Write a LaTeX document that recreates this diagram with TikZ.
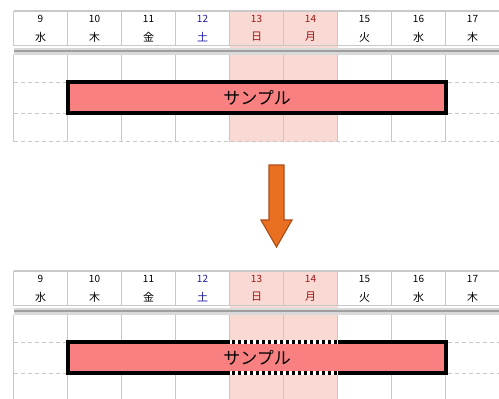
\documentclass[tikz,border=0pt]{standalone}
\usepackage{fontspec}
\setmainfont{Noto Sans CJK JP}
\definecolor{weekend}{RGB}{249,217,211}
\definecolor{gridc}{RGB}{200,200,200}
\definecolor{barfill}{RGB}{248,128,128}
\definecolor{satc}{RGB}{30,30,160}
\definecolor{sunc}{RGB}{160,20,20}
\definecolor{arrowfill}{RGB}{232,112,32}
\definecolor{arrowedge}{RGB}{176,78,26}
\tikzset{
  gridline/.style={draw=gridc, line width=1.2pt},
  rowline/.style={draw=gridc, line width=0.9pt, dash pattern=on 4pt off 3pt},
  daynum/.style={font=\fontsize{10}{10}\selectfont, inner sep=0pt},
  dayname/.style={font=\fontsize{11}{11}\selectfont, inner sep=0pt},
  taskbar/.style={draw=black, fill=barfill, line width=3.5pt, outer sep=0pt,
    minimum width=378pt, minimum height=31pt, inner sep=0pt,
    font=\fontsize{17}{17}\selectfont},
}
\newcommand{\calpanel}[1]{%
  \fill[weekend] (229.5,11) rectangle (337.5,142);
  \draw[gridline] (13.5,11) -- (499.5,11);
  \draw[gridline] (13.5,45.5) -- (499.5,45.5);
  \fill[gray!30] (13.5,47.5) rectangle (499.5,55);
  \draw[gray!75, line width=2pt] (13.5,51.3) -- (499.5,51.3);
  \foreach \i in {0,...,9}{
    \draw[gridline] ({13.5+54*\i},11) -- ({13.5+54*\i},45.5);
    \draw[gridline] ({13.5+54*\i},55) -- ({13.5+54*\i},142);
  }
  \draw[rowline] (13.5,82) -- (499.5,82);
  \draw[rowline] (13.5,113) -- (499.5,113);
  \draw[rowline] (13.5,141) -- (499.5,141);
  \foreach \i/\d/\w/\c in {0/9/水/black,1/10/木/black,2/11/金/black,3/12/土/satc,
      4/13/日/sunc,5/14/月/sunc,6/15/火/black,7/16/水/black,8/17/木/black}{
    \node[daynum, text=\c] (num#1-\i) at ({40.5+54*\i},18.5) {\d};
    \node[dayname, text=\c] (wd#1-\i) at ({40.5+54*\i},37) {\w};
  }
  \node[taskbar] (bar#1) at (257,97.5) {サンプル};
}
\begin{document}
\begin{tikzpicture}[x=1pt,y=-1pt]
\useasboundingbox (0,0) rectangle (499,399);
\fill[white] (0,0) rectangle (499,399);
\begin{scope}
  \calpanel{a}
\end{scope}
\begin{scope}[yshift=-260pt]
  \calpanel{b}
  \draw[white, line width=3.5pt] ([xshift=-27.5pt]barb.north) -- ([xshift=80.5pt]barb.north);
  \draw[white, line width=3.5pt] ([xshift=-27.5pt]barb.south) -- ([xshift=80.5pt]barb.south);
  \draw[black, line width=3.5pt, dash pattern=on 3pt off 3pt] ([xshift=-25pt]barb.north) -- ([xshift=80.5pt]barb.north);
  \draw[black, line width=3.5pt, dash pattern=on 3pt off 3pt] ([xshift=-25pt]barb.south) -- ([xshift=80.5pt]barb.south);
\end{scope}
\draw[fill=arrowfill, draw=arrowedge, line width=1.2pt, line join=miter]
  (269,165) -- (284,165) -- (284,220) -- (292,220) -- (276.5,247) -- (261,220) -- (269,220) -- cycle;
\end{tikzpicture}
\end{document}
